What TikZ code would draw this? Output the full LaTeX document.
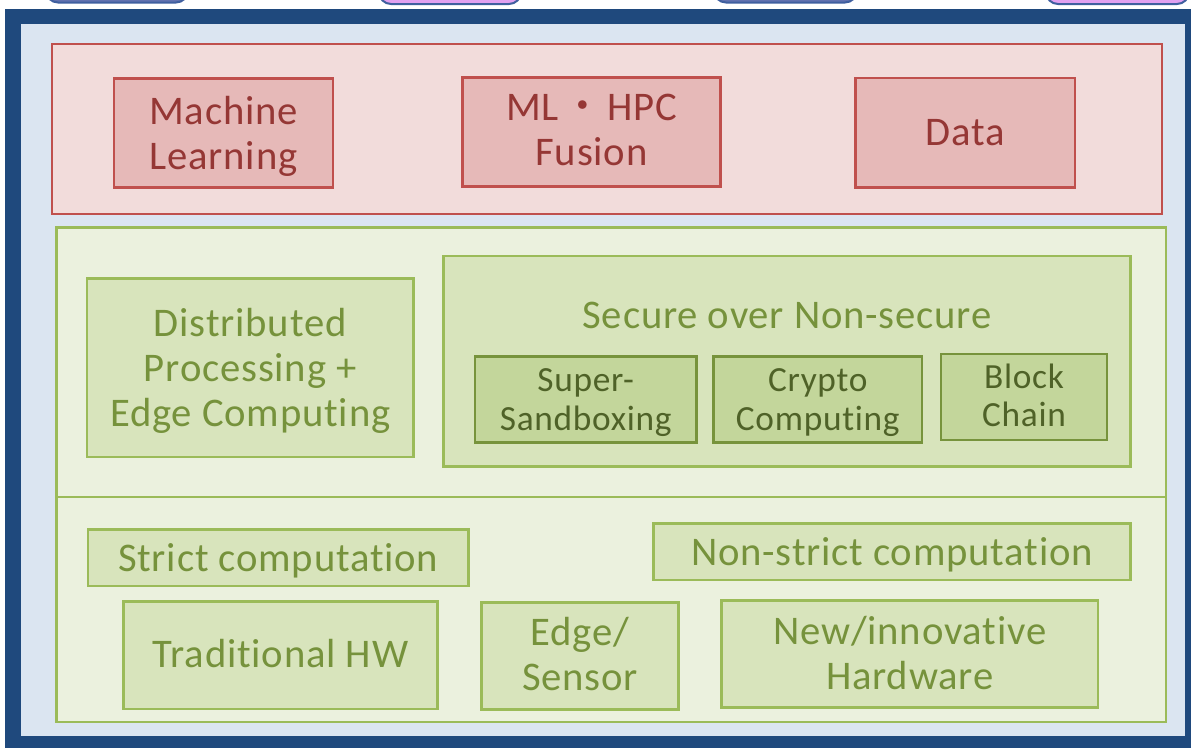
\documentclass[tikz,border=0pt]{standalone}
\usepackage{fontspec}
\setmainfont{Carlito}[LetterSpace=2,Ligatures=NoCommon]
\newfontfamily\cjkfont{Noto Sans CJK JP}
\definecolor{framec}{HTML}{1F497D}
\definecolor{lightc}{HTML}{DBE5F1}
\definecolor{redline}{HTML}{C0504D}
\definecolor{redfill}{HTML}{F2DCDB}
\definecolor{redin}{HTML}{E6B9B8}
\definecolor{redtext}{HTML}{953735}
\definecolor{grline}{HTML}{9BBB59}
\definecolor{grfill}{HTML}{EBF1DE}
\definecolor{grin}{HTML}{D8E4BC}
\definecolor{grtext}{HTML}{76923C}
\definecolor{grdeep}{HTML}{C3D69B}
\definecolor{grdeepline}{HTML}{77933C}
\definecolor{grdeeptext}{HTML}{4F6228}
\definecolor{pillblue}{HTML}{6272B0}
\definecolor{pillpink}{HTML}{E0A0F0}
\definecolor{pillline}{HTML}{3F5F9F}
\definecolor{tickc}{HTML}{7F9FAF}
\tikzset{
  plainbox/.style={rectangle,inner sep=0pt,outer sep=0pt,align=center},
  bigfont/.style={font=\fontsize{30.5}{33.75}\selectfont},
  smallfont/.style={font=\fontsize{26.5}{29}\selectfont},
  redouter/.style={plainbox,draw=redline,fill=redfill,line width=1.5pt},
  redinner/.style={plainbox,bigfont,draw=redline,fill=redin,text=redtext,line width=1.6pt},
  grouter/.style={plainbox,draw=grline,fill=grfill,line width=1.6pt},
  grinner/.style={plainbox,bigfont,draw=grline,fill=grin,text=grtext,line width=1.7pt},
  grdeepbox/.style={plainbox,smallfont,draw=grdeepline,fill=grdeep,text=grdeeptext,line width=1.9pt},
  pillbox/.style={plainbox,rounded corners=9pt,draw=pillline,line width=1.5pt},
}
\newcommand{\bx}[7]{\node[#2,minimum width={(#5-#3)*0.75pt},minimum height={(#6-#4)*0.75pt}] (#1) at ({(#3+#5)/2},{(#4+#6)/2}) {#7};}
% text lowered by #1 px (raised if negative) inside its box; 5pt offsets the tabular's own lift
\newcommand{\shifted}[2]{\raisebox{0pt}[\dimexpr\height+#1pt*3/2+5pt\relax][\depth]{\begin{tabular}{@{}c@{}}#2\end{tabular}}}
\begin{document}
\begin{tikzpicture}[x=0.75pt,y=-0.75pt]
\clip (0,0) rectangle (1191,747);
\fill[white] (0,0) rectangle (1191,747);
% tops of the pills above the frame
\bx{pilla}{pillbox,fill=pillblue}{46}{-30}{188}{2.5}{}
\bx{pillb}{pillbox,fill=pillpink}{379}{-30}{521}{4}{}
\bx{pillc}{pillbox,fill=pillblue}{714}{-30}{857}{2.5}{}
\bx{pilld}{pillbox,fill=pillpink}{1046}{-30}{1189}{4}{}
% frame
\bx{frame}{plainbox,fill=framec}{4.7}{9}{1210}{770}{}
\bx{field}{plainbox,fill=lightc}{20.5}{24.3}{1185}{736}{}
\bx{tick}{plainbox,fill=tickc}{54.5}{376}{56}{379}{}
% red band
\bx{redband}{redouter}{51.5}{43.8}{1161.5}{213.5}{}
\bx{ml}{redinner}{114}{78.5}{333}{187.5}{\shifted{1.5}{Machine\\Learning}}
\bx{fusion}{redinner}{462.5}{77.5}{720.5}{186.5}{\shifted{-1.5}{ML\kern3pt{\cjkfont ・}\kern3pt HPC\\Fusion}}
\bx{data}{redinner}{855.5}{78}{1075}{187.5}{Data}
% green bands
\bx{grupper}{grouter}{56.5}{227.5}{1166}{497}{}
\bx{grlower}{grouter}{56.5}{497}{1166}{722}{}
\bx{dist}{grinner}{87}{278.5}{413.5}{457}{\shifted{1}{Distributed\\Processing +\\Edge Computing}}
\bx{secure}{grinner}{443.5}{256}{1130.5}{466.5}{}
\node[plainbox,bigfont,text=grtext] (securetitle) at (787,315) {Secure over Non-secure};
\bx{sandbox}{grdeepbox}{475}{356.5}{696.5}{442}{\shifted{1}{Super-\\Sandboxing}}
\bx{crypto}{grdeepbox}{713.5}{356.5}{922}{442}{\shifted{1}{Crypto\\Computing}}
\bx{block}{grdeepbox}{941}{354}{1107}{440}{\shifted{-0.5}{Block\\Chain}}
\bx{strict}{grinner}{88}{529.5}{468.5}{586}{\shifted{1}{Strict computation}}
\bx{nonstrict}{grinner}{653.5}{523.5}{1130.5}{580}{\shifted{1}{Non-strict computation}}
\bx{trad}{grinner}{123.5}{601.5}{437.5}{709}{\shifted{0}{Traditional HW}}
\bx{edge}{grinner}{481.5}{602.5}{678.5}{709.5}{\shifted{0}{Edge/\\Sensor}}
\bx{newhw}{grinner}{721.5}{600.5}{1098}{707.5}{\shifted{1}{New/innovative\\Hardware}}
\end{tikzpicture}
\end{document}
